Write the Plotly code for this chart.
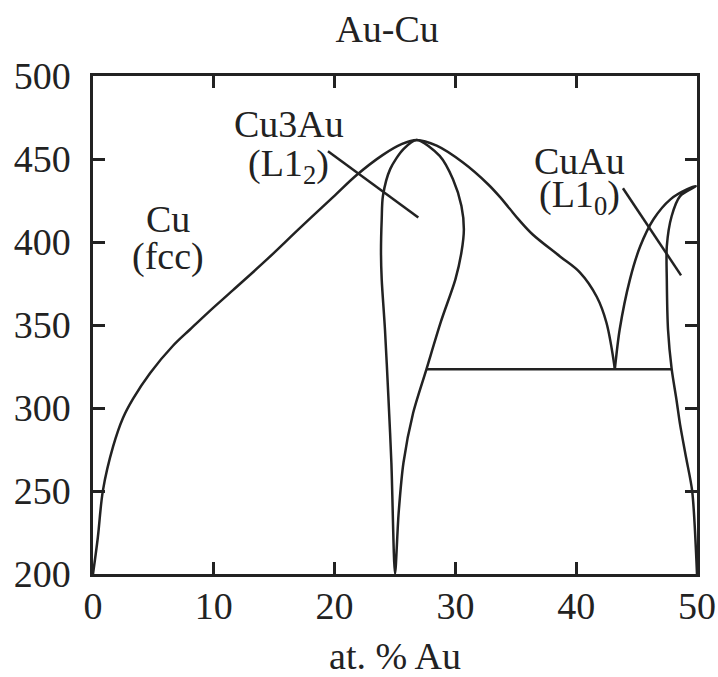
import plotly.graph_objects as go

# ---- data ----
dome_x = [0, 0.4, 0.83, 1.66, 2.48, 3.31, 4.72, 6.62, 8.03, 9.52, 11.59, 14.4, 17.14,
          19.87, 21.85, 24.0, 25.5, 26.8, 28.45, 30.6, 32.7, 33.7, 34.5, 35.3, 36.4, 38.66,
          40.3, 41.7, 42.5, 43.2]
dome_y = [200, 222, 250.7, 276.7, 294, 305.5, 321, 337.5, 347.3, 357.5, 371, 389.5, 408.5,
          427, 440.5, 452.5, 458.8, 461.5, 458, 448, 434.8, 427, 420, 413, 404.5, 391.3,
          381.7, 367, 351.5, 323.5]

loop_x = [25.0, 24.7, 24.45, 24.17, 23.9, 23.84, 23.9, 24.0, 24.6, 25.7, 26.8, 28.7, 29.8,
          30.5, 30.7, 30.5, 30.0, 28.8, 27.6, 26.5, 25.7, 25.3, 25.0]
loop_y = [200, 267, 307, 347.3, 377.5, 393.8, 413.7, 427.7, 443.9, 456, 461.5, 451.9, 437.8,
          421.7, 407.6, 393.8, 377.5, 352, 323.3, 297, 267, 236.6, 200]

cuau_x = [43.2, 43.6, 44.45, 45.3, 46.4, 47.8, 49.2, 49.9, 48.6, 47.9, 47.5, 47.5, 47.6,
          47.9, 48.3, 48.6, 49.1, 49.6, 50.0]
cuau_y = [323.5, 347.3, 377.5, 397.4, 413.7, 425.7, 431.8, 433.6, 427.6, 415.5, 397.4, 377.5,
          347.3, 323.7, 305, 290, 270, 250, 200]

eutectoid_x = [27.6, 47.9]
eutectoid_y = [323.3, 323.3]

leader1_x = [19.45, 26.93]
leader1_y = [454.7, 414.7]
leader2_x = [43.87, 48.68]
leader2_y = [432.4, 379.9]

x_ticks = [0, 10, 20, 30, 40, 50]
y_ticks = [200, 250, 300, 350, 400, 450, 500]

labels = [
    ("Cu", 6.2, 413.7),
    ("(fcc)", 6.2, 391.3),
    ("Cu3Au", 16.2, 471),
    ("(L1<sub>2</sub>)", 16.2, 445.7),
    ("CuAu", 40.3, 449),
    ("(L1<sub>0</sub>)", 40.3, 427),
]

INK = "#222222"
FONT = "Liberation Serif"

fig = go.Figure()
line = dict(color=INK, width=2.5)
fig.add_trace(go.Scatter(x=dome_x, y=dome_y, mode="lines", line=dict(**line, shape="spline", smoothing=1.0)))
fig.add_trace(go.Scatter(x=loop_x, y=loop_y, mode="lines", line=dict(**line, shape="spline", smoothing=0.8)))
fig.add_trace(go.Scatter(x=cuau_x, y=cuau_y, mode="lines", line=dict(**line, shape="spline", smoothing=0.8)))
fig.add_trace(go.Scatter(x=eutectoid_x, y=eutectoid_y, mode="lines", line=line))
fig.add_trace(go.Scatter(x=leader1_x, y=leader1_y, mode="lines", line=line))
fig.add_trace(go.Scatter(x=leader2_x, y=leader2_y, mode="lines", line=line))

for txt, lx, ly in labels:
    fig.add_annotation(x=lx, y=ly, xref="x", yref="y", text=txt, showarrow=False,
                       font=dict(family=FONT, size=38, color=INK),
                       xanchor="center", yanchor="middle")

axis_common = dict(showline=True, linewidth=2.5, linecolor=INK, mirror="allticks",
                   ticks="inside", ticklen=12, tickwidth=2.5, tickcolor=INK,
                   showgrid=False, zeroline=False, automargin=False,
                   tickfont=dict(family=FONT, size=38, color=INK))

fig.update_layout(
    width=718, height=677,
    margin=dict(l=93, r=21, t=76, b=103),
    plot_bgcolor="white", paper_bgcolor="white",
    showlegend=False,
    font=dict(family=FONT),
    title=dict(text="Au-Cu", x=0.487, xref="paper", xanchor="center",
               y=0.958, yref="container", yanchor="middle", automargin=False,
               font=dict(family=FONT, size=38, color=INK)),
    xaxis=dict(range=[0, 50], tickvals=x_ticks, ticklabelstandoff=-3,
               title=dict(text="at. % Au", standoff=18, font=dict(family=FONT, size=38, color=INK)),
               **axis_common),
    yaxis=dict(range=[200, 500], tickvals=y_ticks, ticklabelstandoff=12, **axis_common),
)

fig.write_html("out.html")
